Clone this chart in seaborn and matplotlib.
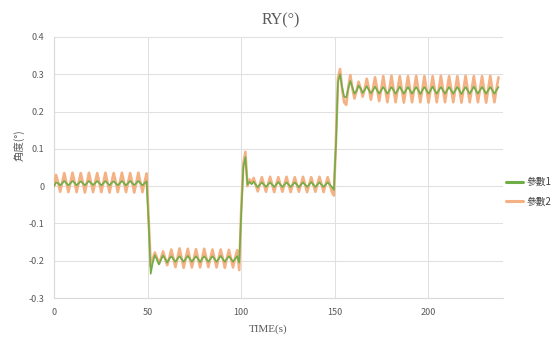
import numpy as np
import pandas as pd
import matplotlib
matplotlib.use("Agg")
import matplotlib.pyplot as plt
from matplotlib.lines import Line2D
import seaborn as sns

# Sampled response of the RY angle (degrees), one sample every 1.1 s
sample_period_s = 1.1

param1 = [
    # 0 - 50 s
    0.000, 0.010, 0.008, 0.002, 0.008, 0.014, 0.008, 0.002,
    0.008, 0.014, 0.009, 0.002, 0.008, 0.013, 0.008, 0.002,
    0.008, 0.014, 0.008, 0.003, 0.008, 0.014, 0.008, 0.002,
    0.008, 0.014, 0.008, 0.002, 0.009, 0.013, 0.008, 0.002,
    0.008, 0.014, 0.008, 0.002, 0.008, 0.014, 0.008, 0.003,
    0.008, 0.014, 0.008, 0.002, 0.008, 0.013,
    # 50 - 100 s
    -0.100, -0.235, -0.205, -0.185, -0.196, -0.210, -0.197, -0.186,
    -0.195, -0.205, -0.195, -0.188, -0.195, -0.203, -0.195, -0.188,
    -0.195, -0.203, -0.195, -0.187, -0.195, -0.203, -0.195, -0.188,
    -0.195, -0.204, -0.195, -0.188, -0.195, -0.203, -0.195, -0.188,
    -0.195, -0.203, -0.195, -0.187, -0.195, -0.203, -0.195, -0.188,
    -0.195, -0.203, -0.195, -0.188, -0.205,
    # 100 - 150 s
    -0.070, 0.050, 0.078, 0.004, 0.012, 0.005, 0.012, 0.004,
    -0.003, 0.004, 0.010, 0.004, -0.002, 0.004, 0.010, 0.004,
    -0.002, 0.004, 0.011, 0.004, -0.002, 0.004, 0.010, 0.004,
    -0.002, 0.004, 0.010, 0.004, -0.003, 0.004, 0.010, 0.004,
    -0.002, 0.004, 0.011, 0.004, -0.002, 0.004, 0.010, 0.004,
    -0.002, 0.004, 0.010, 0.004, -0.002, -0.010,
    # 150 - 240 s
    0.110, 0.280, 0.300, 0.265, 0.240, 0.238, 0.262, 0.282,
    0.265, 0.248, 0.255, 0.270, 0.262, 0.250, 0.258, 0.268,
    0.258, 0.249, 0.257, 0.267, 0.257, 0.248,
    0.257, 0.266, 0.257, 0.248, 0.257, 0.266, 0.257, 0.248,
    0.257, 0.267, 0.257, 0.248, 0.257, 0.266, 0.257, 0.248,
    0.257, 0.266, 0.257, 0.247, 0.257, 0.266, 0.257, 0.248,
    0.257, 0.267, 0.257, 0.248, 0.257, 0.266, 0.257, 0.248,
    0.257, 0.266, 0.257, 0.248, 0.257, 0.266, 0.257, 0.247,
    0.257, 0.266, 0.257, 0.248, 0.257, 0.267, 0.257, 0.248,
    0.257, 0.266, 0.257, 0.248, 0.257, 0.266, 0.257, 0.248,
    0.257, 0.266,
]

param2 = [
    # 0 - 50 s
    0.000, 0.030, 0.010, -0.015, 0.010, 0.035, 0.010, -0.016,
    0.010, 0.036, 0.011, -0.016, 0.010, 0.035, 0.010, -0.017,
    0.010, 0.036, 0.010, -0.016, 0.011, 0.035, 0.010, -0.016,
    0.010, 0.036, 0.010, -0.017, 0.010, 0.035, 0.011, -0.016,
    0.010, 0.036, 0.010, -0.016, 0.010, 0.035, 0.010, -0.017,
    0.010, 0.036, 0.010, -0.016, 0.010, 0.034,
    # 50 - 100 s
    -0.090, -0.215, -0.195, -0.178, -0.192, -0.208, -0.193, -0.175,
    -0.193, -0.212, -0.193, -0.170, -0.193, -0.217, -0.193, -0.167,
    -0.193, -0.219, -0.193, -0.168, -0.193, -0.218, -0.193, -0.169,
    -0.193, -0.218, -0.193, -0.168, -0.193, -0.217, -0.193, -0.170,
    -0.194, -0.218, -0.193, -0.170, -0.193, -0.219, -0.193, -0.171,
    -0.194, -0.218, -0.193, -0.172, -0.225,
    # 100 - 150 s
    -0.060, 0.060, 0.092, 0.000, 0.018, 0.008, 0.022, 0.004,
    -0.014, 0.005, 0.024, 0.005, -0.015, 0.005, 0.025, 0.005,
    -0.016, 0.005, 0.024, 0.005, -0.015, 0.005, 0.025, 0.005,
    -0.016, 0.005, 0.024, 0.005, -0.015, 0.005, 0.025, 0.005,
    -0.016, 0.005, 0.024, 0.005, -0.015, 0.005, 0.025, 0.005,
    -0.016, 0.005, 0.024, 0.005, -0.015, -0.025,
    # 150 - 240 s
    0.120, 0.290, 0.314, 0.260, 0.225, 0.218, 0.265, 0.298,
    0.262, 0.235, 0.255, 0.280, 0.262, 0.240, 0.262, 0.288,
    0.262, 0.232, 0.262, 0.292, 0.262, 0.228,
    0.260, 0.295, 0.260, 0.225, 0.260, 0.296, 0.260, 0.225,
    0.260, 0.295, 0.260, 0.224, 0.260, 0.295, 0.260, 0.225,
    0.260, 0.296, 0.260, 0.225, 0.260, 0.295, 0.260, 0.224,
    0.260, 0.295, 0.260, 0.225, 0.260, 0.296, 0.260, 0.225,
    0.260, 0.295, 0.260, 0.225, 0.260, 0.295, 0.260, 0.224,
    0.260, 0.296, 0.260, 0.225, 0.260, 0.295, 0.260, 0.225,
    0.260, 0.295, 0.260, 0.224, 0.260, 0.296, 0.260, 0.225,
    0.260, 0.292,
]

time_s = np.round(np.arange(len(param1)) * sample_period_s, 1)

series_names = ["參數1", "參數2"]
series_colors = {"參數1": "#70AD47", "參數2": "#F4B183"}
x_ticks = [0, 50, 100, 150, 200]
y_ticks = [-0.3, -0.2, -0.1, 0.0, 0.1, 0.2, 0.3, 0.4]

df = pd.DataFrame({
    "time": np.concatenate([time_s, time_s]),
    "angle": np.concatenate([param1, param2]),
    "series": [series_names[0]] * len(param1) + [series_names[1]] * len(param2),
})

sns.set_theme(style="white")
plt.rcParams["font.family"] = ["Noto Sans CJK TC", "DejaVu Sans"]

fig = plt.figure(figsize=(5.6, 3.42), dpi=100)
fig.patch.set_facecolor("white")
ax = fig.add_axes([54 / 560, 1 - 298 / 342, 449 / 560, 261 / 342])

# series 2 underneath, series 1 drawn over it
sns.lineplot(data=df[df["series"] == series_names[1]], x="time", y="angle",
             color=series_colors[series_names[1]], lw=1.9, ax=ax, legend=False,
             zorder=3)
sns.lineplot(data=df[df["series"] == series_names[0]], x="time", y="angle",
             color=series_colors[series_names[0]], lw=1.2, ax=ax, legend=False,
             zorder=4)

ax.set_xlim(0, 240)
ax.set_ylim(-0.3, 0.4)
ax.set_xticks(x_ticks)
ax.set_xticklabels([str(t) for t in x_ticks])
ax.set_yticks(y_ticks)
ax.set_yticklabels(["0" if abs(v) < 1e-9 else f"{v:g}" for v in y_ticks])
ax.tick_params(axis="both", length=0, labelsize=6.5, labelcolor="#595959")
ax.tick_params(axis="x", pad=7)
ax.tick_params(axis="y", pad=7)
ax.grid(True, color="#E0E0E0", lw=0.75)
ax.set_axisbelow(True)
for side in ["top", "right"]:
    ax.spines[side].set_visible(False)
for side in ["left", "bottom"]:
    ax.spines[side].set_color("#D9D9D9")
    ax.spines[side].set_linewidth(0.8)
ax.set_xlabel("")
ax.set_ylabel("")

fig.text(281 / 560, 1 - 20 / 342, "RY(°)", ha="center", va="center",
         family=["Liberation Serif", "DejaVu Serif"], fontsize=11.5, color="#595959")
fig.text(268 / 560, 1 - 329 / 342, "TIME(s)", ha="center", va="center",
         family=["Liberation Serif", "DejaVu Serif"], fontsize=8, color="#595959")
fig.text(19 / 560, 1 - 145 / 342, "角度(°)", ha="center", va="center",
         rotation=90, fontsize=7.5, color="#595959")

handles = [Line2D([], [], color=series_colors[n], lw=2.2) for n in series_names]
fig.legend(handles, series_names, loc="center left",
           bbox_to_anchor=(497 / 560, 1 - 192 / 342), frameon=False,
           fontsize=7, handlelength=1.8, handletextpad=0.3, labelspacing=1.0,
           labelcolor="#404040")

fig.savefig("out.png", dpi=100, facecolor="white")
